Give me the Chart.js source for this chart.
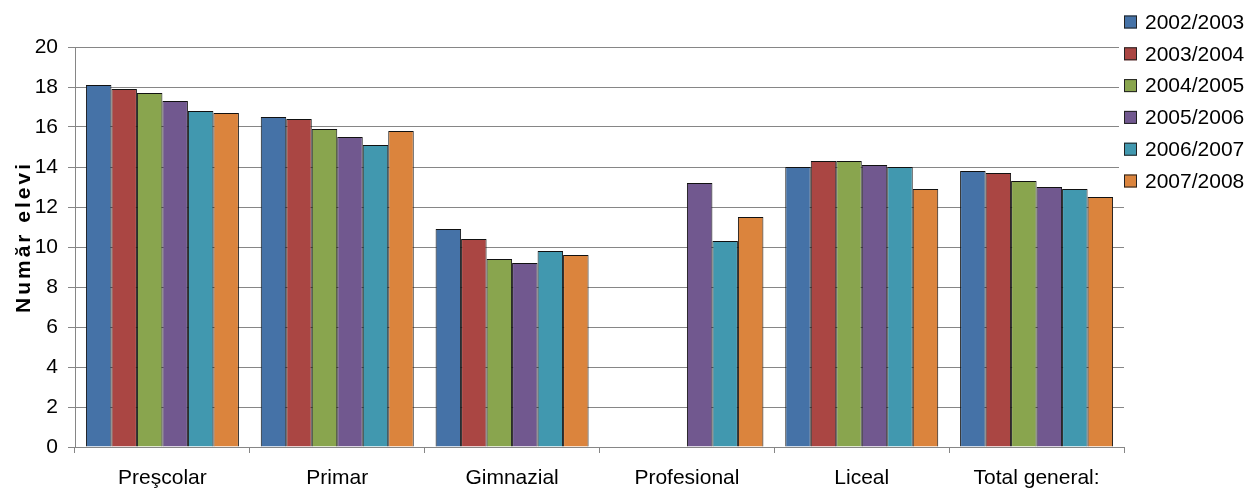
<!DOCTYPE html>
<html>
<head>
<meta charset="utf-8">
<script src="https://cdn.jsdelivr.net/npm/chart.js@4/dist/chart.umd.min.js"></script>
<style>
  html, body { margin: 0; padding: 0; background: #fff; }
  #wrap { width: 1250px; height: 490px; }
</style>
</head>
<body>
<div id="wrap"><canvas id="myChart" width="1250" height="490"></canvas></div>
<script>
// categories and series
var categories = ["Preşcolar", "Primar", "Gimnazial", "Profesional", "Liceal", "Total general:"];
var years = ["2002/2003", "2003/2004", "2004/2005", "2005/2006", "2006/2007", "2007/2008"];

var y2002 = [18.1, 16.5, 10.9, null, 14.0, 13.8];
var y2003 = [17.9, 16.4, 10.4, null, 14.3, 13.7];
var y2004 = [17.7, 15.9, 9.4, null, 14.3, 13.3];
var y2005 = [17.3, 15.5, 9.2, 13.2, 14.1, 13.0];
var y2006 = [16.8, 15.1, 9.8, 10.3, 14.0, 12.9];
var y2007 = [16.7, 15.8, 9.6, 11.5, 12.9, 12.5];

var seriesValues = [y2002, y2003, y2004, y2005, y2006, y2007];
var colors = ["#4572A7", "#AA4643", "#89A54E", "#71588F", "#4198AF", "#DB843D"];

var yTitle = "Număr elevi";
var fontFam = "'Liberation Sans', Arial, sans-serif";

//draw the legend on top-right and the y axis title
var extras = {
  id: "extras",
  afterDraw: function(chart) {
    var c = chart.ctx;
    c.save();
    // white background behind legend
    c.fillStyle = "#fff";
    c.fillRect(1119, 0, 131, 196);
    c.font = "21px " + fontFam;
    c.textBaseline = "middle";
    c.textAlign = "left";
    for (var i = 0; i < years.length; i++) {
      var y = 22 + i * 31.8;
      c.fillStyle = colors[i];
      c.fillRect(1124, y - 6.5, 13, 13);
      c.strokeStyle = "#222";
      c.lineWidth = 1;
      c.strokeRect(1124.5, y - 6, 12, 12);
      c.fillStyle = "#000";
      c.fillText(years[i], 1145, y + 1);
    }
    // y title
    c.translate(24, 237);
    c.rotate(-Math.PI / 2);
    c.font = "bold 21px " + fontFam;
    c.letterSpacing = "3px";
    c.textAlign = "center";
    c.fillStyle = "#000";
    c.fillText(yTitle, 0, 0);
    c.restore();
  }
};

var datasets = seriesValues.map(function(vals, i) {
  return {
    label: years[i],
    data: vals,
    backgroundColor: colors[i],
    borderColor: "#111",
    borderWidth: 1,
    barPercentage: 1.0,
    categoryPercentage: 0.875
  };
});

var myChart = new Chart(document.getElementById("myChart"), {
  type: "bar",
  data: { labels: categories, datasets: datasets },
  plugins: [extras],
  options: {
    responsive: false,
    animation: false,
    layout: { padding: { top: 47, right: 126, left: 0, bottom: 0 } },
    plugins: { legend: { display: false }, tooltip: { enabled: false } },
    scales: {
      x: {
        afterFit: function(s) { s.height = 43; },
        grid: { offset: true, drawOnChartArea: false, drawTicks: true, tickLength: 6, color: "#868686" },
        border: { color: "#868686" },
        ticks: { color: "#000", font: { family: fontFam, size: 21 }, padding: 13, maxRotation: 0, autoSkip: false }
      },
      y: {
        min: 0,
        max: 20,
        afterFit: function(s) { s.width = 75; },
        ticks: { stepSize: 2, color: "#000", font: { family: fontFam, size: 21 }, padding: 10 },
        grid: { color: "#868686", tickLength: 7 },
        border: { color: "#868686" }
      }
    }
  }
});
</script>
</body>
</html>
